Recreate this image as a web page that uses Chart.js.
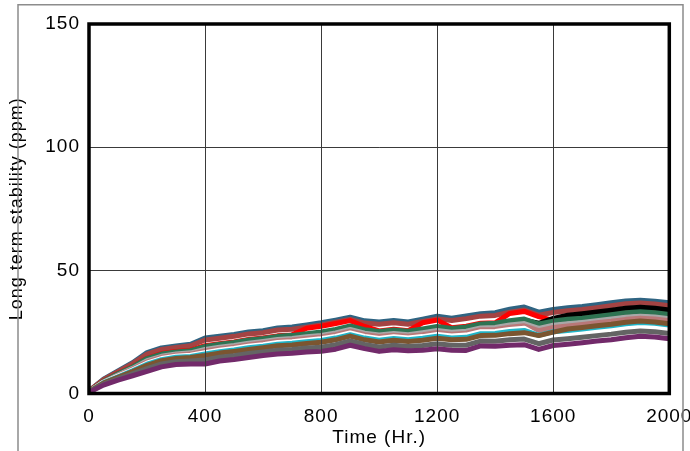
<!DOCTYPE html>
<html><head><meta charset="utf-8">
<script src="https://cdn.jsdelivr.net/npm/chart.js@4/dist/chart.umd.min.js"></script>
<style>html,body{margin:0;padding:0;background:#fff;overflow:hidden}#wrap{width:690px;height:451px}</style>
</head><body><div id="wrap"><canvas id="c" width="690" height="451"></canvas></div>
<script>
const hours = [0,50,100,150,200,250,300,350,400,450,500,550,600,650,700,750,800,850,900,950,1000,1050,1100,1150,1200,1250,1300,1350,1400,1450,1500,1550,1600,1650,1700,1750,1800,1850,1900,1950,2000];
const xTicks = [0,400,800,1200,1600,2000];
const yTicks = [0,50,100,150];

const teal     = [1.0,5.8,9.2,12.5,16.6,18.5,19.3,20.0,22.5,23.2,24.0,25.0,25.5,26.6,27.0,27.8,28.7,29.8,31.0,29.5,29.0,29.6,29.0,30.2,31.4,30.6,31.5,32.4,32.8,34.2,35.1,33.0,34.1,34.8,35.3,36.0,36.8,37.6,37.9,37.5,36.8];
const brownRed = [1.0,5.6,8.9,12.1,16.0,17.9,18.7,19.4,21.7,22.4,23.2,24.2,24.7,25.8,26.1,26.9,27.8,28.9,30.1,28.6,28.1,28.7,28.1,29.2,30.3,29.6,30.4,31.4,31.7,33.0,33.9,31.8,32.9,33.6,34.1,34.8,35.6,36.4,36.7,36.3,35.6];
const red      = [0.9,5.1,8.1,10.9,14.3,16.2,17.1,17.6,19.4,20.2,20.9,21.9,22.5,23.4,23.8,26.5,27.3,28.4,29.6,27.2,25.4,26.1,25.5,28.7,29.8,26.7,27.3,28.5,28.7,32.5,33.3,31.2,29.7,30.4,30.9,31.6,32.3,33.1,33.5,33.1,32.4];
const black    = [0.8,4.7,7.5,10.1,13.2,15.0,15.9,16.4,17.8,18.7,19.4,20.3,21.0,21.8,22.2,22.9,23.5,24.5,25.9,24.4,23.7,24.3,23.8,24.5,25.5,24.8,25.2,26.5,26.7,29.1,29.8,28.5,30.5,31.8,32.4,33.1,33.8,34.6,35.0,34.6,33.9];
const green    = [0.8,5.0,8.0,10.8,14.2,16.0,16.9,17.4,19.1,20.0,20.7,21.7,22.3,23.2,23.6,24.3,25.0,26.0,27.4,25.9,25.2,25.8,25.3,26.2,27.2,26.4,27.0,28.2,28.5,29.5,30.2,28.2,29.4,30.1,30.6,31.3,32.0,32.8,33.2,32.8,32.1];
const lightGray= [0.8,4.7,7.5,10.2,13.3,15.1,16.0,16.5,17.9,18.8,19.5,20.4,21.1,21.9,22.3,23.0,23.6,24.6,26.0,24.5,23.8,24.4,23.9,24.7,25.6,24.9,25.3,26.6,26.8,27.8,28.4,26.4,27.7,28.3,28.8,29.5,30.2,31.0,31.4,31.1,30.4];
const pink     = [0.8,4.6,7.3,9.9,12.8,14.7,15.6,16.0,17.3,18.2,18.9,19.8,20.5,21.3,21.7,22.3,22.9,23.9,25.3,23.9,23.1,23.7,23.2,23.9,24.8,24.1,24.5,25.9,26.0,26.9,27.5,25.5,26.8,27.4,28.0,28.7,29.3,30.1,30.6,30.2,29.5];
const white    = [0.7,4.5,7.1,9.5,12.3,14.2,15.1,15.5,16.6,17.6,18.3,19.2,19.8,20.7,21.0,21.6,22.2,23.2,24.6,23.2,22.3,23.0,22.5,23.1,24.0,23.3,23.7,25.1,25.2,26.0,26.5,23.3,24.8,23.9,24.4,25.1,25.7,26.5,27.0,26.7,26.0];
const cyan     = [0.7,4.3,6.8,9.2,11.9,13.7,14.7,15.0,16.0,17.0,17.7,18.6,19.2,20.0,20.4,21.0,21.5,22.5,23.9,22.5,21.6,22.3,21.8,22.4,23.2,22.5,22.8,24.3,24.4,25.2,25.6,23.6,25.1,25.6,26.2,26.9,27.5,28.3,28.8,28.5,27.8];
const brown    = [0.7,4.2,6.6,8.9,11.4,13.3,14.2,14.6,15.4,16.4,17.1,17.9,18.6,19.4,19.7,20.3,20.8,21.8,23.3,21.8,20.9,21.6,21.1,21.6,22.4,21.8,22.0,23.5,23.6,24.3,24.7,23.5,24.9,26.2,26.8,27.5,28.1,28.9,29.4,29.0,28.3];
const darkGray = [0.6,3.8,6.0,8.0,10.1,12.0,12.9,13.2,13.6,14.7,15.3,16.2,16.9,17.6,17.9,18.5,18.8,19.8,21.3,19.9,18.9,19.6,19.1,19.5,20.2,19.6,19.6,21.3,21.2,21.8,22.1,20.2,21.7,22.2,22.8,23.5,24.1,24.9,25.4,25.1,24.4];
const purple   = [0.5,3.4,5.4,7.2,9.0,10.8,11.8,12.0,12.0,13.2,13.8,14.6,15.4,16.0,16.3,16.8,17.1,18.0,19.6,18.2,17.1,17.8,17.4,17.6,18.2,17.6,17.5,19.3,19.2,19.6,19.8,17.9,19.5,20.0,20.6,21.3,21.8,22.6,23.2,22.9,22.2];

// first entry drawn on top
const seriesList = [
  [purple,'#722a6a'],[darkGray,'#646464'],[brown,'#7b5530'],[cyan,'#1fb5c8'],
  [white,'#ffffff'],[pink,'#b87878'],[lightGray,'#a8a8a8'],[green,'#2e7352'],
  [black,'#000000'],[red,'#ff0000'],[brownRed,'#a44343'],[teal,'#2f6482']
];

const framePlugin = {
  id: 'frame',
  beforeDraw(chart) {
    chart.ctx.letterSpacing = '1px';
  },
  afterDraw(chart) {
    const {ctx, chartArea: a} = chart;
    ctx.save();
    ctx.strokeStyle = '#000'; ctx.lineWidth = 3.5;
    ctx.strokeRect(a.left, a.top, a.right - a.left, a.bottom - a.top);
    ctx.strokeStyle = '#8c8c8c'; ctx.lineWidth = 1.5;
    ctx.beginPath();
    ctx.moveTo(18, 451); ctx.lineTo(18, 4.75); ctx.lineTo(683, 4.75); ctx.lineTo(683, 451);
    ctx.stroke();
    ctx.restore();
  }
};

Chart.defaults.font.family = "'Liberation Sans', Arial, sans-serif";
Chart.defaults.color = '#000';

new Chart(document.getElementById('c'), {
  type: 'line',
  data: {
    datasets: seriesList.map(([vals, col]) => ({
      data: hours.map((h, i) => ({x: h, y: vals[i]})),
      borderColor: col, backgroundColor: col, borderWidth: 5,
      pointRadius: 0, tension: 0, fill: false,
      borderJoinStyle: 'round', borderCapStyle: 'round'
    }))
  },
  options: {
    responsive: false, animation: false, devicePixelRatio: 1,
    layout: {padding: {top: 24, right: 20.7, left: 0, bottom: 0}},
    plugins: {legend: {display: false}, tooltip: {enabled: false}},
    scales: {
      x: {
        type: 'linear', min: 0, max: 2000,
        afterBuildTicks: s => { s.ticks = xTicks.map(v => ({value: v})); },
        afterFit: s => { s.height = 57.5; s.paddingLeft = 0; s.paddingRight = 0; },
        ticks: {font: {size: 19}, padding: 12, maxRotation: 0, autoSkip: false, callback: v => String(v)},
        grid: {color: '#3a3a3a', lineWidth: 1, drawTicks: false, z: 1},
        border: {display: false},
        title: {display: true, text: 'Time (Hr.)', font: {size: 19}, padding: {top: 0, bottom: 2}}
      },
      y: {
        type: 'linear', min: 0, max: 150,
        afterBuildTicks: s => { s.ticks = yTicks.map(v => ({value: v})); },
        afterFit: s => { s.width = 89; },
        ticks: {font: {size: 19}, padding: 9, callback: v => String(v)},
        grid: {color: '#3a3a3a', lineWidth: 1, drawTicks: false, z: 1},
        border: {display: false},
        title: {display: true, text: 'Long term stability (ppm)', font: {size: 18}, padding: {top: 6, bottom: 0}}
      }
    }
  },
  plugins: [framePlugin]
});
</script>
</body></html>
